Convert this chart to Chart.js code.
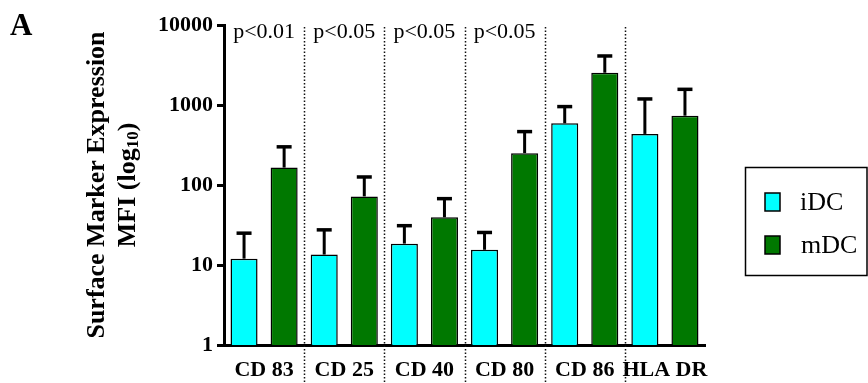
<!DOCTYPE html>
<html>
<head>
<meta charset="utf-8">
<title>Surface marker expression</title>
<script src="https://cdn.jsdelivr.net/npm/chart.js@4/dist/chart.umd.min.js"></script>
<style>
  html, body { margin: 0; padding: 0; background: #fff; }
  #wrap { width: 868px; height: 383px; }
</style>
</head>
<body>
<div id="wrap"><canvas id="c" width="868" height="383"></canvas></div>
<script>
// Surface markers measured on immature (iDC) and mature (mDC) dendritic cells
const markers = ['CD 83', 'CD 25', 'CD 40', 'CD 80', 'CD 86', 'HLA DR'];
const iDC = [12, 13.5, 18.5, 15.5, 590, 435];
const iDCErr = [13, 14, 12.5, 10, 365, 755];
const mDC = [165, 72, 39.5, 250, 2530, 735];
const mDCErr = [135, 54, 28, 215, 1570, 835];
const pValues = ['p<0.01', 'p<0.05', 'p<0.05', 'p<0.05', '', ''];
const yTicks = [1, 10, 100, 1000, 10000];

const SERIF = '"Liberation Serif", "Times New Roman", Times, serif';

// upper error whiskers with caps
const errorBars = {
  id: 'errorBars',
  afterDatasetsDraw(chart) {
    const { ctx } = chart;
    const y = chart.scales.y;
    chart.data.datasets.forEach((ds, di) => {
      const meta = chart.getDatasetMeta(di);
      meta.data.forEach((bar, i) => {
        const top = y.getPixelForValue(ds.data[i] + ds.errors[i]);
        ctx.save();
        ctx.strokeStyle = '#000';
        ctx.lineWidth = 3;
        ctx.lineCap = 'butt';
        ctx.beginPath();
        ctx.moveTo(bar.x, bar.y);
        ctx.lineTo(bar.x, top);
        ctx.stroke();
        ctx.lineWidth = 3.5;
        ctx.beginPath();
        ctx.moveTo(bar.x - 7.5, top);
        ctx.lineTo(bar.x + 7.5, top);
        ctx.stroke();
        ctx.restore();
      });
    });
  }
};

// dotted separators between marker groups, and p-value notes
const groupDecor = {
  id: 'groupDecor',
  afterDraw(chart) {
    const { ctx } = chart;
    const x = chart.scales.x;
    const n = markers.length;
    ctx.save();
    ctx.strokeStyle = '#111';
    ctx.lineWidth = 1.5;
    ctx.setLineDash([1.5, 2]);
    for (let i = 1; i < n; i++) {
      const px = Math.round((x.getPixelForValue(i - 1) + x.getPixelForValue(i)) / 2) + 0.5;
      ctx.beginPath();
      ctx.moveTo(px, 27);
      ctx.lineTo(px, 383);
      ctx.stroke();
    }
    ctx.restore();

    ctx.save();
    ctx.fillStyle = '#000';
    ctx.font = '22px ' + SERIF;
    ctx.textAlign = 'center';
    ctx.textBaseline = 'middle';
    pValues.forEach((p, i) => {
      if (p) ctx.fillText(p, x.getPixelForValue(i), 32);
    });
    ctx.restore();
  }
};

// rotated y-axis title with a subscript, panel letter and boxed legend
const annotations = {
  id: 'annotations',
  afterDraw(chart) {
    const { ctx } = chart;
    ctx.save();
    ctx.fillStyle = '#000';
    ctx.font = 'bold 31px ' + SERIF;
    ctx.textAlign = 'left';
    ctx.textBaseline = 'alphabetic';
    ctx.fillText('A', 10, 35);
    ctx.restore();

    // y title
    ctx.save();
    ctx.fillStyle = '#000';
    ctx.translate(97, 185);
    ctx.rotate(-Math.PI / 2);
    ctx.font = 'bold 26px ' + SERIF;
    ctx.textAlign = 'center';
    ctx.textBaseline = 'middle';
    ctx.fillText('Surface Marker Expression', 0, 0);
    ctx.restore();

    ctx.save();
    ctx.fillStyle = '#000';
    ctx.translate(128, 185);
    ctx.rotate(-Math.PI / 2);
    ctx.textBaseline = 'middle';
    ctx.textAlign = 'left';
    const big = 'bold 26px ' + SERIF;
    const small = 'bold 17px ' + SERIF;
    const parts = [['MFI (log', big, 0], ['10', small, 6], [')', big, 0]];
    let total = 0;
    parts.forEach(p => { ctx.font = p[1]; total += ctx.measureText(p[0]).width; });
    let cx = -total / 2;
    parts.forEach(p => {
      ctx.font = p[1];
      ctx.fillText(p[0], cx, p[2]);
      cx += ctx.measureText(p[0]).width;
    });
    ctx.restore();

    // legend
    ctx.save();
    ctx.strokeStyle = '#000';
    ctx.lineWidth = 1.5;
    ctx.strokeRect(745.5, 167.5, 121.5, 108);
    ctx.font = '26px ' + SERIF;
    ctx.textBaseline = 'middle';
    ctx.textAlign = 'left';
    chart.data.datasets.forEach((ds, i) => {
      const cy = 202 + i * 43;
      ctx.fillStyle = ds.backgroundColor;
      ctx.fillRect(765, cy - 9, 15, 18);
      ctx.strokeRect(765, cy - 9, 15, 18);
      ctx.fillStyle = '#000';
      ctx.fillText(ds.label, i === 0 ? 800 : 801, cy + 1);
    });
    ctx.restore();
  }
};

new Chart(document.getElementById('c'), {
  type: 'bar',
  data: {
    labels: markers,
    datasets: [
      { label: 'iDC', data: iDC, errors: iDCErr, backgroundColor: '#00FFFF',
        borderColor: '#000', borderWidth: 1.5 },
      { label: 'mDC', data: mDC, errors: mDCErr, backgroundColor: '#007800',
        borderColor: '#000', borderWidth: 1.5 }
    ]
  },
  options: {
    responsive: false,
    animation: false,
    devicePixelRatio: 1,
    layout: { padding: { left: 0, top: 25, right: 163, bottom: 0 } },
    datasets: { bar: { categoryPercentage: 1.0, barPercentage: 0.675 } },
    plugins: { legend: { display: false }, tooltip: { enabled: false } },
    scales: {
      x: {
        type: 'category',
        offset: true,
        grid: { display: false },
        border: { display: true, color: '#000', width: 3 },
        ticks: {
          autoSkip: false, maxRotation: 0, minRotation: 0, padding: 4,
          color: '#000', font: { family: SERIF, size: 22, weight: 'bold' }
        },
        afterFit(scale) { scale.height = 38; }
      },
      y: {
        type: 'logarithmic',
        min: 1,
        max: 10000,
        afterBuildTicks(scale) { scale.ticks = yTicks.map(v => ({ value: v, major: true })); },
        grid: {
          drawOnChartArea: false, drawTicks: true, tickLength: 7,
          tickWidth: 3, tickColor: '#000'
        },
        border: { display: true, color: '#000', width: 3 },
        ticks: {
          padding: 4, color: '#000',
          font: { family: SERIF, size: 22, weight: 'bold' },
          callback: v => String(v)
        },
        afterFit(scale) { scale.width = 224; }
      }
    }
  },
  plugins: [errorBars, groupDecor, annotations]
});
</script>
</body>
</html>
